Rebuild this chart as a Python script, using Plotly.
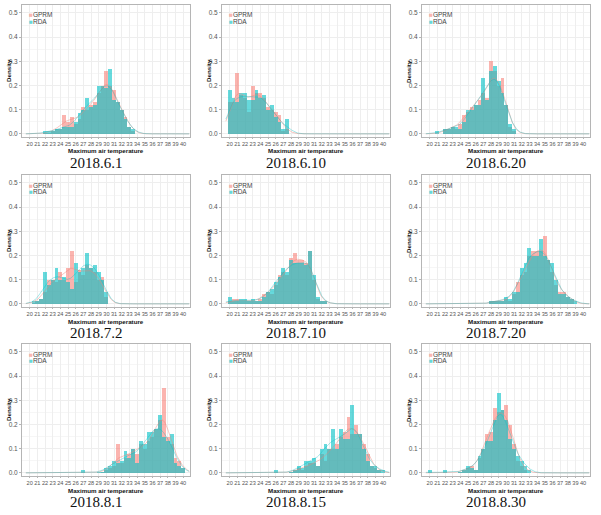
import numpy as np
import plotly.graph_objects as go

dates = ["2018.6.1", "2018.6.10", "2018.6.20",
         "2018.7.2", "2018.7.10", "2018.7.20",
         "2018.8.1", "2018.8.15", "2018.8.30"]

# first bin centre (deg C) of each panel; bins are 0.5 deg wide
bin_start = [22.0, 20.0, 21.0, 20.5, 20.0, 28.0, 27.0, 26.0, 20.0]

gprm_0601 = [0.005, 0.005, 0.01, 0.02, 0.02, 0.08, 0.05, 0.07, 0.04, 0.06, 0.11, 0.10,
             0.12, 0.13, 0.17, 0.20, 0.26, 0.20, 0.18, 0.13, 0.10, 0.07, 0.03, 0.01]
rda_0601 = [0.01, 0.01, 0.01, 0.02, 0.02, 0.03, 0.03, 0.03, 0.05, 0.085, 0.10, 0.15,
            0.11, 0.12, 0.20, 0.20, 0.19, 0.27, 0.14, 0.13, 0.10, 0.06, 0.03, 0.02]

gprm_0610 = [0.13, 0.13, 0.25, 0.16, 0.15, 0.09, 0.20, 0.17, 0.17, 0.15, 0.11, 0.10,
             0.09, 0.08, 0.01, 0.02]
rda_0610 = [0.18, 0.15, 0.13, 0.17, 0.17, 0.14, 0.14, 0.18, 0.15, 0.16, 0.10, 0.12,
            0.07, 0.05, 0.02, 0.06]

gprm_0620 = [0.0, 0.0, 0.02, 0.02, 0.03, 0.02, 0.04, 0.08, 0.09, 0.11, 0.12, 0.14,
             0.17, 0.15, 0.30, 0.26, 0.20, 0.23, 0.12, 0.03, 0.01]
rda_0620 = [0.01, 0.0, 0.02, 0.02, 0.03, 0.03, 0.02, 0.05, 0.10, 0.10, 0.12, 0.12,
            0.23, 0.14, 0.26, 0.28, 0.22, 0.17, 0.12, 0.04, 0.02]

gprm_0702 = [0.005, 0.01, 0.02, 0.05, 0.10, 0.10, 0.09, 0.13, 0.10, 0.15, 0.22, 0.09,
             0.14, 0.12, 0.16, 0.15, 0.13, 0.10, 0.11, 0.03]
rda_0702 = [0.01, 0.01, 0.02, 0.13, 0.08, 0.10, 0.15, 0.10, 0.11, 0.09, 0.06, 0.17,
            0.13, 0.15, 0.21, 0.15, 0.16, 0.13, 0.10, 0.05]

gprm_0710 = [0.01, 0.02, 0.02, 0.01, 0.01, 0.01, 0.01, 0.01, 0.02, 0.04, 0.05, 0.04,
             0.08, 0.12, 0.13, 0.12, 0.19, 0.21, 0.18, 0.18, 0.17, 0.22, 0.10, 0.02,
             0.01, 0.01]
rda_0710 = [0.03, 0.01, 0.01, 0.02, 0.02, 0.01, 0.02, 0.01, 0.01, 0.03, 0.05, 0.06,
            0.09, 0.11, 0.15, 0.13, 0.18, 0.17, 0.17, 0.17, 0.16, 0.22, 0.12, 0.03,
            0.01, 0.01]

gprm_0720 = [0.01, 0.01, 0.01, 0.01, 0.02, 0.01, 0.04, 0.09, 0.12, 0.13, 0.20, 0.22,
             0.22, 0.22, 0.28, 0.18, 0.13, 0.08, 0.05, 0.05, 0.03, 0.02, 0.0]
rda_0720 = [0.01, 0.01, 0.01, 0.01, 0.03, 0.02, 0.05, 0.05, 0.15, 0.17, 0.23, 0.20,
            0.20, 0.27, 0.20, 0.18, 0.17, 0.10, 0.04, 0.04, 0.03, 0.02, 0.01]

gprm_0801 = [0.0, 0.0, 0.0, 0.0, 0.0, 0.005, 0.01, 0.02, 0.03, 0.12, 0.04, 0.06,
             0.08, 0.10, 0.08, 0.12, 0.10, 0.13, 0.15, 0.18, 0.22, 0.35, 0.15, 0.12,
             0.06, 0.05, 0.02]
rda_0801 = [0.01, 0.0, 0.0, 0.0, 0.003, 0.005, 0.02, 0.03, 0.05, 0.04, 0.05, 0.09,
            0.06, 0.10, 0.04, 0.13, 0.12, 0.17, 0.17, 0.18, 0.24, 0.15, 0.13, 0.16,
            0.04, 0.03, 0.02]

gprm_0815 = [0.0, 0.0, 0.0, 0.0, 0.005, 0.01, 0.02, 0.01, 0.03, 0.04, 0.04, 0.03,
             0.08, 0.05, 0.10, 0.10, 0.12, 0.15, 0.17, 0.23, 0.16, 0.20, 0.16, 0.12,
             0.08, 0.03, 0.02, 0.01, 0.0]
rda_0815 = [0.01, 0.0, 0.0, 0.0, 0.005, 0.01, 0.03, 0.02, 0.05, 0.05, 0.06, 0.03,
            0.10, 0.12, 0.10, 0.18, 0.10, 0.18, 0.14, 0.14, 0.28, 0.16, 0.16, 0.10,
            0.05, 0.03, 0.03, 0.01, 0.01]

gprm_0830 = [0.0, 0.0, 0.0, 0.0, 0.0, 0.0, 0.0, 0.0, 0.005, 0.01, 0.02, 0.03,
             0.01, 0.06, 0.10, 0.16, 0.17, 0.27, 0.25, 0.26, 0.28, 0.20, 0.12, 0.05,
             0.03, 0.01, 0.0]
rda_0830 = [0.01, 0.0, 0.0, 0.0, 0.01, 0.0, 0.0, 0.0, 0.005, 0.01, 0.03, 0.02,
            0.01, 0.07, 0.10, 0.13, 0.13, 0.22, 0.33, 0.26, 0.22, 0.14, 0.10, 0.07,
            0.05, 0.03, 0.01]

gprm_all = [gprm_0601, gprm_0610, gprm_0620, gprm_0702, gprm_0710, gprm_0720,
            gprm_0801, gprm_0815, gprm_0830]
rda_all = [rda_0601, rda_0610, rda_0620, rda_0702, rda_0710, rda_0720,
           rda_0801, rda_0815, rda_0830]

x_ticks = list(range(20, 41))
y_ticks = [0.0, 0.1, 0.2, 0.3, 0.4, 0.5]

W, H = 601, 515
BIN = 0.5
PINK_BAR = "rgba(248,118,109,0.55)"
TEAL_BAR = "rgba(0,191,196,0.6)"
PINK_LINE = "rgba(240,130,120,0.5)"
TEAL_LINE = "rgba(0,191,196,0.4)"
SANS = "Liberation Sans, Arial, sans-serif"


def smooth_density(centres, heights, grid, bw=0.75):
    centres = np.asarray(centres)
    heights = np.asarray(heights)
    d = grid[:, None] - centres[None, :]
    k = np.exp(-0.5 * (d / bw) ** 2) / (bw * np.sqrt(2 * np.pi))
    return (k * heights[None, :] * BIN).sum(axis=1)


fig = go.Figure()
layout = {}
annotations = []
grid = np.linspace(19.5, 40.8, 300)

for k in range(9):
    r, c = divmod(k, 3)
    sfx = "" if k == 0 else str(k + 1)
    g = gprm_all[k]
    rd = rda_all[k]
    centres = bin_start[k] + BIN * np.arange(len(g))

    fig.add_trace(go.Bar(x=centres, y=g, width=BIN, name="GPRM",
                         marker=dict(color=PINK_BAR, line=dict(width=0)),
                         xaxis="x" + sfx, yaxis="y" + sfx, showlegend=False))
    fig.add_trace(go.Bar(x=centres, y=rd, width=BIN, name="RDA",
                         marker=dict(color=TEAL_BAR, line=dict(width=0)),
                         xaxis="x" + sfx, yaxis="y" + sfx, showlegend=False))
    fig.add_trace(go.Scatter(x=grid, y=smooth_density(centres, g, grid), mode="lines",
                             line=dict(color=PINK_LINE, width=0.9),
                             xaxis="x" + sfx, yaxis="y" + sfx, showlegend=False,
                             hoverinfo="skip"))
    fig.add_trace(go.Scatter(x=grid, y=smooth_density(centres, rd, grid), mode="lines",
                             line=dict(color=TEAL_LINE, width=0.9),
                             xaxis="x" + sfx, yaxis="y" + sfx, showlegend=False,
                             hoverinfo="skip"))

    left, right = 22 + 200 * c, 190 + 200 * c
    top, bottom = 5 + round(169.5 * r), 137 + round(169.5 * r)
    layout["xaxis" + sfx] = dict(
        domain=[left / W, right / W], range=[19.0, 40.9], anchor="y" + sfx,
        tickmode="array", tickvals=x_ticks, ticktext=[str(v) for v in x_ticks],
        tickangle=0, tickfont=dict(size=5.6, color="#555555", family=SANS),
        showgrid=True, gridcolor="#eeeeee", gridwidth=0.6, zeroline=False,
        showline=True, mirror=True, linecolor="#b5b5b5", linewidth=1,
        ticks="outside", ticklen=1, tickcolor="#b5b5b5", fixedrange=True)
    layout["yaxis" + sfx] = dict(
        domain=[1 - bottom / H, 1 - top / H], range=[-0.013, 0.533], anchor="x" + sfx,
        tickmode="array", tickvals=y_ticks, ticktext=[f"{v:.1f}" for v in y_ticks],
        tickfont=dict(size=6.5, color="#555555", family=SANS),
        showgrid=True, gridcolor="#eeeeee", gridwidth=0.6, zeroline=False,
        showline=True, mirror=True, linecolor="#b5b5b5", linewidth=1,
        ticks="outside", ticklen=2, tickcolor="#b5b5b5", fixedrange=True,
        minor=dict(showgrid=True, gridcolor="#f6f6f6", dtick=0.05))

    # legend inside panel
    annotations.append(dict(
        x=(27 + 200 * c) / W, y=1 - (15 + top - 5) / H, xref="paper", yref="paper",
        xanchor="left", yanchor="middle", showarrow=False,
        text=f"<span style='color:{PINK_BAR}'>■</span>GPRM",
        font=dict(size=6.5, color="#444444", family=SANS)))
    annotations.append(dict(
        x=(27 + 200 * c) / W, y=1 - (21.5 + top - 5) / H, xref="paper", yref="paper",
        xanchor="left", yanchor="middle", showarrow=False,
        text=f"<span style='color:{TEAL_BAR}'>■</span>RDA",
        font=dict(size=6.5, color="#444444", family=SANS)))
    # axis titles
    annotations.append(dict(
        x=(8 + 200 * c) / W, y=1 - (71 + top - 5) / H, xref="paper", yref="paper",
        xanchor="center", yanchor="middle", showarrow=False, textangle=-90,
        text="<b>Density</b>", font=dict(size=6.2, color="#111111", family=SANS)))
    annotations.append(dict(
        x=(106 + 200 * c) / W, y=1 - (bottom + 14) / H, xref="paper", yref="paper",
        xanchor="center", yanchor="middle", showarrow=False,
        text="<b>Maximum air temperature</b>",
        font=dict(size=6.2, color="#111111", family=SANS)))
    # date caption
    annotations.append(dict(
        x=(96 + 200 * c) / W, y=1 - (bottom + 25.5) / H, xref="paper", yref="paper",
        xanchor="center", yanchor="middle", showarrow=False,
        text=dates[k], font=dict(size=15, color="#111111",
                                 family="Liberation Serif, Times New Roman, serif")))

fig.update_layout(
    width=W, height=H, autosize=False,
    margin=dict(l=0, r=0, t=0, b=0),
    paper_bgcolor="white", plot_bgcolor="white",
    barmode="overlay", bargap=0, showlegend=False,
    annotations=annotations, **layout)

fig.write_html("out.html",
               config={"displayModeBar": False},
               post_script="document.body.style.margin='0';"
                           "document.body.style.padding='0';"
                           "document.body.style.overflow='hidden';")
